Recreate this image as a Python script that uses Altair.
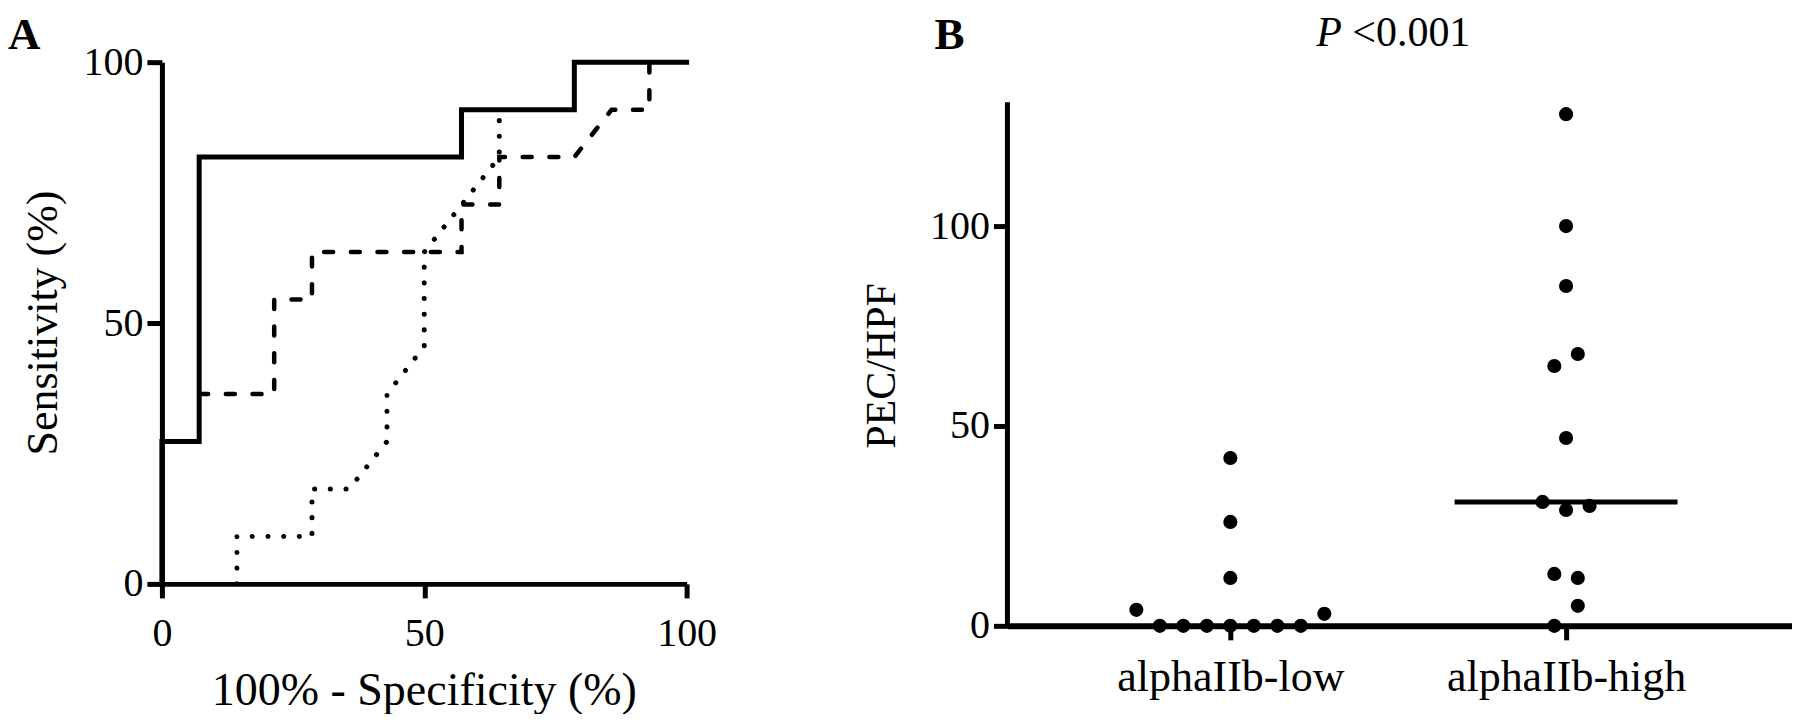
import altair as alt
import pandas as pd
import numpy as np

FONT = "Liberation Serif"

# ---------------- Panel A: ROC curves (values in %) ----------------
solid_x = [0, 0, 7.1, 7.1, 57.1, 57.1, 78.6, 78.6, 100]
solid_y = [0, 27.3, 27.3, 81.8, 81.8, 90.9, 90.9, 100, 100]

dashed_x = [7.1, 21.4, 21.4, 28.6, 28.6, 57.1, 57.1, 64.3, 64.3, 78.6, 85.7, 92.9, 92.9]
dashed_y = [36.4, 36.4, 54.5, 54.5, 63.6, 63.6, 72.7, 72.7, 81.8, 81.8, 90.9, 90.9, 100]

dotted_x = [14.3, 14.3, 28.6, 28.6, 35.7, 42.9, 42.9, 50.0, 50.0, 64.3, 64.3]
dotted_y = [0, 9.1, 9.1, 18.2, 18.2, 27.3, 36.4, 45.5, 63.6, 81.8, 90.9]

a_ticks = [0, 50, 100]
a_xtitle = "100% - Specificity (%)"
a_ytitle = "Sensitivity (%)"

# ---------------- Panel B: dot plot ----------------
categories = ["alphaIIb-low", "alphaIIb-high"]
low_values = [4, 0, 0, 0, 0, 0, 0, 0, 3, 12, 26, 42]
low_slots = [-4, -3, -2, -1, 0, 1, 2, 3, 4, 0, 0, 0]
high_values = [128, 100, 85, 65, 68, 47, 31, 29, 30, 13, 12, 5, 0]
high_slots = [0, 0, 0, -0.5, 0.5, 0, -1, 0, 1, -0.5, 0.5, 0.5, -0.5]
b_ticks = [0, 50, 100]
b_axis_top = 131
b_ytitle = "PEC/HPF"
p_italic = "P"
p_rest = "<0.001"

# ---------------- data tables ----------------
rows = []
for name, xs, ys in [("solid", solid_x, solid_y), ("dashed", dashed_x, dashed_y),
                     ("dotted", dotted_x, dotted_y)]:
    for i, (x, y) in enumerate(zip(xs, ys)):
        rows.append({"series": name, "x": x, "y": y, "order": i})
roc = pd.DataFrame(rows)

SLOT = 0.07
rowsB = []
for ci, (vals, slots) in enumerate([(low_values, low_slots), (high_values, high_slots)]):
    for v, s in zip(vals, slots):
        rowsB.append({"cat": categories[ci], "pos": ci + s * SLOT, "v": v})
dots = pd.DataFrame(rowsB)

HALF = 0.332
med = pd.DataFrame({"m": [float(np.median(high_values))], "x1": [1 - HALF], "x2": [1 + HALF]})
yline = pd.DataFrame({"y0": [0], "y1": [b_axis_top]})
one = pd.DataFrame({"a": [0]})

axis_common = dict(title=None, grid=False, labelFont=FONT, labelColor="black",
                   domainColor="black", tickColor="black", labelFlush=False,
                   labelOverlap=False, labelLimit=600)
no_frame = alt.ViewBackground(stroke="transparent", strokeWidth=0, strokeOpacity=0)

# ---------------- Panel A ----------------
xA = alt.X("x:Q", scale=alt.Scale(domain=[0, 100], nice=False, zero=False),
           axis=alt.Axis(values=a_ticks, domainWidth=5, tickWidth=5, tickSize=14,
                         labelFontSize=40, labelPadding=16, **axis_common))
yA = alt.Y("y:Q", scale=alt.Scale(domain=[0, 100], nice=False, zero=False),
           axis=alt.Axis(values=a_ticks, domainWidth=5, tickWidth=5, tickSize=15,
                         labelFontSize=40, labelPadding=4, **axis_common))


def line_layer(name, **mk):
    return (alt.Chart(roc).transform_filter(alt.datum.series == name)
            .mark_line(color="black", **mk)
            .encode(x=xA, y=yA, order="order:Q"))


def text_layer(txt, x, y, size, angle=0, weight="normal", style="normal",
               align="left", baseline="alphabetic"):
    return (alt.Chart(one).mark_text(text=txt, font=FONT, fontSize=size, fontWeight=weight,
                                     fontStyle=style, align=align, baseline=baseline,
                                     angle=angle, color="black")
            .encode(x=alt.value(x), y=alt.value(y)))


anchor = (alt.Chart(one).mark_rule(strokeOpacity=0, strokeWidth=1)
          .encode(x=alt.value(-162), x2=alt.value(-161), y=alt.value(-82), y2=alt.value(-81)))

solid = line_layer("solid", strokeWidth=5, strokeJoin="miter", strokeCap="square")
dashed = line_layer("dashed", strokeWidth=4.5, strokeDash=[9, 17.7], strokeCap="round")
dotted = line_layer("dotted", strokeWidth=5, strokeDash=[0.1, 15.6], strokeCap="round")

panelA = alt.layer(
    solid, dashed, dotted, anchor,
    text_layer("A", -154, -13, 45, weight="bold"),
    text_layer(a_ytitle, -118, 261, 44, angle=270, align="center", baseline="middle"),
    text_layer(a_xtitle, 262.5, 643, 46, align="center"),
).properties(width=525, height=522, view=no_frame)

# ---------------- Panel B ----------------
label_expr = f"datum.value < 0.5 ? '{categories[0]}' : '{categories[1]}'"


def xB(field):
    return alt.X(field, scale=alt.Scale(domain=[-0.664, 1.673], nice=False, zero=False),
                 axis=alt.Axis(values=[0, 1], labelExpr=label_expr, domainWidth=6,
                               tickWidth=5, tickSize=14, labelFontSize=44,
                               labelPadding=16, **axis_common))


def yB(field):
    return alt.Y(field, scale=alt.Scale(domain=[0, 141], nice=False, zero=False),
                 axis=alt.Axis(values=b_ticks, domain=False, tickWidth=5, tickSize=14,
                               labelFontSize=40, labelPadding=4, **axis_common))


points = (alt.Chart(dots).mark_circle(size=200, color="black", opacity=1)
          .encode(x=xB("pos:Q"), y=yB("v:Q")))
median = (alt.Chart(med).mark_rule(color="black", strokeWidth=5)
          .encode(x=xB("x1:Q"), x2="x2:Q", y=yB("m:Q")))
yaxis_line = (alt.Chart(yline).mark_rule(color="black", strokeWidth=5)
              .encode(x=alt.value(0), y=yB("y0:Q"), y2="y1:Q"))

panelB = alt.layer(
    yaxis_line, median, points,
    text_layer("B", -73, -13, 45, weight="bold"),
    text_layer(p_italic, 309, -16, 42, style="italic"),
    text_layer(p_rest, 345, -16, 42),
    text_layer(b_ytitle, -126, 304, 42, angle=270, align="center", baseline="middle"),
).properties(width=785, height=564, view=no_frame)

chart = (alt.hconcat(panelA, panelB, spacing=321, bounds="flush")
         .properties(padding={"left": -8, "top": -28, "right": 0, "bottom": 0})
         .configure_view(stroke="transparent", strokeWidth=0)
         .configure(font=FONT))

chart.save("out.html", embed_options={"renderer": "svg", "actions": False})
